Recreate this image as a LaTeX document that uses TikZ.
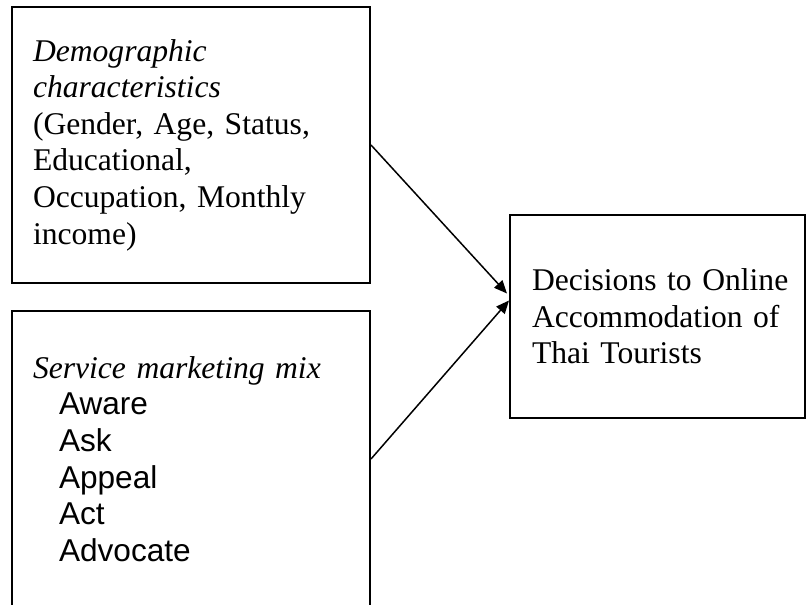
\documentclass[tikz,border=0pt]{standalone}
\usepackage{fontspec}
\setmainfont{Liberation Serif}
\newfontfamily\arialf{Liberation Sans}
\usepackage{tikz}
\usetikzlibrary{calc,arrows.meta,positioning}
\tikzset{
  ar/.style={-{Triangle[length=6.5pt,width=5.5pt]},line width=0.75pt,black},
  box/.style={draw=black,line width=1pt,align=left,inner ysep=0pt,font=\fontsize{15.8}{18.3}\selectfont}
}

\begin{document}
\begin{tikzpicture}[x=0.5pt,y=-0.5pt]
\useasboundingbox (0,0) rectangle (809,605);
\node[box,minimum height=138pt,inner xsep=10.5pt,text width=158pt] (demo) at (191,145)
  {\textit{Demographic}\\ \textit{characteristics}\\ (Gender, Age, Status,\\ Educational,\\ Occupation, Monthly\\ income)};
\node[box,minimum height=148pt,inner xsep=10.5pt,text width=158pt] (mix) at (191,459)
  {\textit{Service marketing mix}\\ \arialf\hspace*{13pt}Aware\\ \arialf\hspace*{13pt}Ask\\ \arialf\hspace*{13pt}Appeal\\ \arialf\hspace*{13pt}Act\\ \arialf\hspace*{13pt}Advocate};
\node[box,minimum height=101.5pt,inner xsep=11pt,text width=125.5pt] (dec) at (657.5,316.5)
  {\mbox{Decisions to Online}\\ \mbox{Accommodation of}\\ \mbox{Thai Tourists}};
\coordinate (in1) at ([xshift=-1pt,yshift=11.5pt]dec.west);
\coordinate (in2) at ([yshift=8pt]dec.west);
\draw[ar] (demo.east) -- (in1);
\draw[ar] (mix.east) -- (in2);
\end{tikzpicture}
\end{document}
